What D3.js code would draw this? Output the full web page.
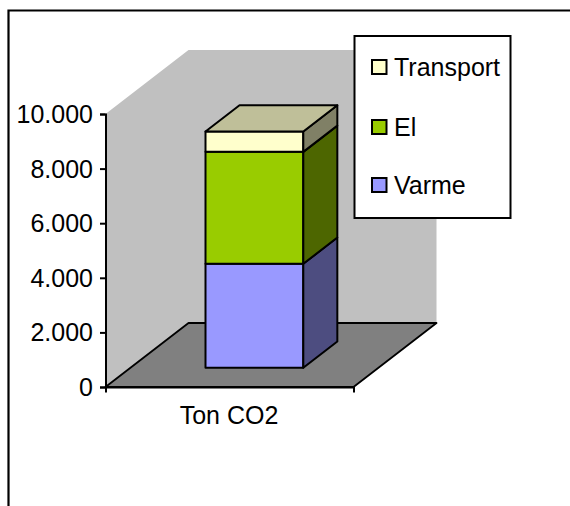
<!DOCTYPE html>
<html>
<head>
<meta charset="utf-8">
<script src="https://cdn.jsdelivr.net/npm/d3@7"></script>
<style>
  html, body { margin: 0; padding: 0; background: #fff; }
  svg { display: block; }
  text { font-family: "Liberation Sans", Arial, sans-serif; font-size: 25px; fill: #000; }
</style>
</head>
<body>
<div id="grafica"></div>
<script>
// data
const categories = ["Ton CO2"];
const seriesNames = ["Varme", "El", "Transport"];
const varme = [3810];
const el = [4100];
const transport = [745];
const yTicks = [0, 2000, 4000, 6000, 8000, 10000];
const yTickLabels = ["0", "2.000", "4.000", "6.000", "8.000", "10.000"];
const legendOrder = ["Transport", "El", "Varme"];

const seriesValues = [varme, el, transport];
const colors = { Varme: "#9999FF", El: "#99CC00", Transport: "#FFFFCC" };
const sideColors = { Varme: "#4D4D80", El: "#4D6600", Transport: "#808066" };
const topColor = "#BFBF99";

const width = 570, height = 506;

// scales
const x = d3.scaleBand().domain(categories).range([105.5, 353.5]).paddingInner(0).paddingOuter(0);
const y = d3.scaleLinear().domain([0, 10000]).range([387, 114]);
const depthX = d3.scaleLinear().domain([0, 1]).range([0, 83]);
const depthY = d3.scaleLinear().domain([0, 1]).range([0, -64]);

// 3d projection: px on the front plane, value, depth 0..1
function pt(px, v, d) {
    return [px + depthX(d), y(v) + depthY(d)];
}
function poly(points) {
    return points.map(p => p.join(",")).join(" ");
}

const svg = d3.select("#grafica").append("svg")
    .attr("width", width)
    .attr("height", height);

// outer frame, cut off at the right and bottom
svg.append("path")
    .attr("d", "M8.5," + height + "V10.5H" + width)
    .attr("fill", "none")
    .attr("stroke", "#000")
    .attr("stroke-width", 2.2);

const x0 = x.range()[0], x1 = x.range()[1];

// back wall
svg.append("polygon")
    .attr("points", poly([pt(x0, 0, 0), pt(x0, 10000, 0), pt(x0, 10000, 1), pt(x1, 10000, 1), pt(x1, 0, 1), pt(x0, 0, 1)]))
    .attr("fill", "#C0C0C0");

// floor
svg.append("polygon")
    .attr("points", poly([pt(x0, 0, 0), pt(x0, 0, 1), pt(x1, 0, 1), pt(x1, 0, 0)]))
    .attr("fill", "#808080")
    .attr("stroke", "#000")
    .attr("stroke-width", 1.8)
    .attr("stroke-linejoin", "round");

// axes
const axisY = d3.axisLeft(y).tickValues(yTicks).tickSize(5.5).tickFormat("");
const gy = svg.append("g").attr("transform", "translate(" + x0 + ",0)").call(axisY);
gy.selectAll("path, line").attr("stroke", "#000").attr("stroke-width", 2);

const axisX = d3.axisBottom(x).tickValues([]).tickSizeOuter(5.5);
const gx = svg.append("g").attr("transform", "translate(0," + y(0) + ")").call(axisX);
gx.selectAll("path").attr("stroke", "#000").attr("stroke-width", 2);

svg.selectAll(".ylab")
    .data(yTicks)
    .enter()
    .append("text")
    .attr("class", "ylab")
    .attr("x", 93)
    .attr("y", d => y(d) + 9)
    .attr("text-anchor", "end")
    .text((d, i) => yTickLabels[i]);

svg.selectAll(".xlab")
    .data(categories)
    .enter()
    .append("text")
    .attr("class", "xlab")
    .attr("x", d => x(d) + x.bandwidth() / 2 - 0.5)
    .attr("y", 423.5)
    .attr("text-anchor", "middle")
    .text(d => d);

// stacked bar
const barLeft = x0 + 100 - depthX(0.3);
const barRight = barLeft + 97.8;
const dFront = 0.3, dBack = 0.71;

categories.forEach((c, ci) => {
    let base = 0;
    seriesNames.forEach((name, si) => {
        const top = base + seriesValues[si][ci];
        // front
        svg.append("polygon")
            .attr("points", poly([pt(barLeft, base, dFront), pt(barLeft, top, dFront), pt(barRight, top, dFront), pt(barRight, base, dFront)]))
            .attr("fill", colors[name])
            .attr("stroke", "#000").attr("stroke-width", 2).attr("stroke-linejoin", "round");
        // side
        svg.append("polygon")
            .attr("points", poly([pt(barRight, base, dFront), pt(barRight, top, dFront), pt(barRight, top, dBack), pt(barRight, base, dBack)]))
            .attr("fill", sideColors[name])
            .attr("stroke", "#000").attr("stroke-width", 2).attr("stroke-linejoin", "round");
        base = top;
    });
    // lid
    svg.append("polygon")
        .attr("points", poly([pt(barLeft, base, dFront), pt(barLeft, base, dBack), pt(barRight, base, dBack), pt(barRight, base, dFront)]))
        .attr("fill", topColor)
        .attr("stroke", "#000").attr("stroke-width", 2).attr("stroke-linejoin", "round");
});

// legend
const legendSwatchY = d3.scaleOrdinal().domain(legendOrder).range([60, 120, 178]);

svg.append("rect")
    .attr("x", 354.5).attr("y", 36)
    .attr("width", 156).attr("height", 182)
    .attr("fill", "#fff")
    .attr("stroke", "#000").attr("stroke-width", 2);

svg.selectAll(".swatch")
    .data(legendOrder)
    .enter()
    .append("rect")
    .attr("class", "swatch")
    .attr("x", 372)
    .attr("y", d => legendSwatchY(d))
    .attr("width", 14.5)
    .attr("height", 14)
    .attr("fill", d => colors[d])
    .attr("stroke", "#000")
    .attr("stroke-width", 2);

svg.selectAll(".legtext")
    .data(legendOrder)
    .enter()
    .append("text")
    .attr("class", "legtext")
    .attr("x", 394)
    .attr("y", d => legendSwatchY(d) + 15.5)
    .text(d => d);
</script>
</body>
</html>
